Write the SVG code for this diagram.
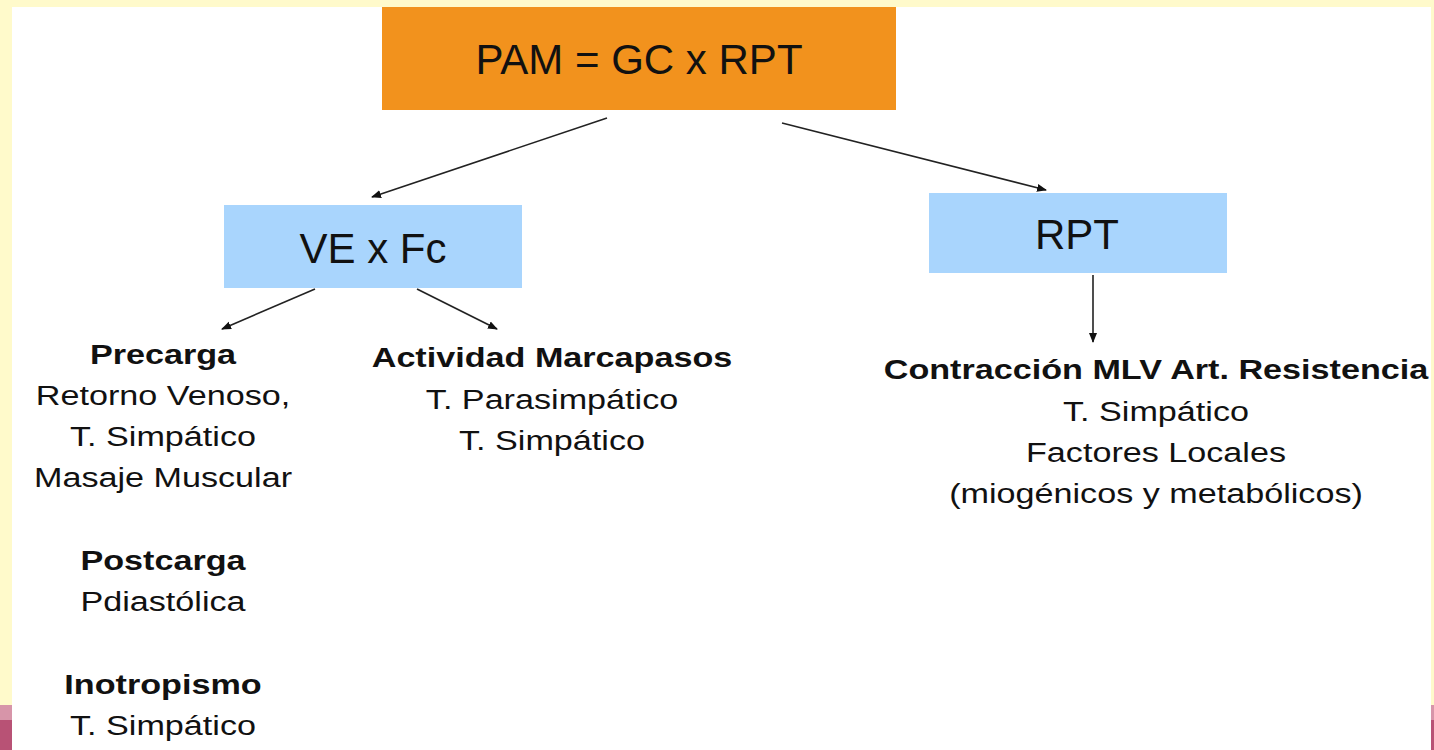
<svg xmlns="http://www.w3.org/2000/svg" width="1434" height="750" viewBox="0 0 1434 750">
<defs>
<marker id="ah" viewBox="0 0 10 10" refX="9" refY="5" markerWidth="10" markerHeight="10" markerUnits="userSpaceOnUse" orient="auto">
<path d="M0,1 L10,5 L0,9 z" fill="#111"/>
</marker>
<style>
text{font-family:"Liberation Sans",Arial,Helvetica,sans-serif;fill:#111;text-anchor:middle}
.big{font-size:42px}
.t{font-size:28px}
.b{font-size:28px;font-weight:bold}
.blue{fill:#a9d5fd}
.conn line{stroke:#222;stroke-width:1.6;marker-end:url(#ah)}
</style>
</defs>
<rect x="0" y="0" width="1434" height="750" fill="#fffacb"/>
<rect x="12" y="7" width="1419" height="743" fill="#ffffff"/>
<rect x="0" y="705" width="12" height="15" fill="#d795a9"/>
<rect x="0" y="720" width="12" height="30" fill="#b85275"/>
<rect x="1431" y="705" width="3" height="15" fill="#d795a9"/>
<rect x="1431" y="720" width="3" height="30" fill="#b85275"/>
<g id="pam">
<rect x="382" y="7" width="514" height="103" fill="#f2921d"/>
<text class="big" x="639" y="74">PAM = GC x RPT</text>
</g>
<g id="vefc">
<rect class="blue" x="224" y="205" width="298" height="83"/>
<text class="big" x="373" y="263">VE x Fc</text>
</g>
<g id="rpt">
<rect class="blue" x="929" y="193" width="298" height="80"/>
<text class="big" x="1077" y="249">RPT</text>
</g>
<g id="precarga" transform="translate(163 0) scale(1.22 1)">
<text class="b" x="0" y="364">Precarga</text>
<text class="t" x="0" y="405">Retorno Venoso,</text>
<text class="t" x="0" y="446">T. Simpático</text>
<text class="t" x="0" y="487">Masaje Muscular</text>
<text class="b" x="0" y="570">Postcarga</text>
<text class="t" x="0" y="611">Pdiastólica</text>
<text class="b" x="0" y="694">Inotropismo</text>
<text class="t" x="0" y="735">T. Simpático</text>
</g>
<g id="marcapasos" transform="translate(552 0) scale(1.22 1)">
<text class="b" x="0" y="367">Actividad Marcapasos</text>
<text class="t" x="0" y="409">T. Parasimpático</text>
<text class="t" x="0" y="450">T. Simpático</text>
</g>
<g id="contraccion" transform="translate(1156 0) scale(1.22 1)">
<text class="b" x="0" y="379">Contracción MLV Art. Resistencia</text>
<text class="t" x="0" y="421">T. Simpático</text>
<text class="t" x="0" y="462">Factores Locales</text>
<text class="t" x="0" y="503">(miogénicos y metabólicos)</text>
</g>
<g id="connectors" class="conn">
<line x1="607" y1="118" x2="372" y2="197"/>
<line x1="782" y1="123" x2="1046" y2="190"/>
<line x1="315" y1="289" x2="222" y2="329"/>
<line x1="417" y1="289" x2="497" y2="329"/>
<line x1="1093" y1="275" x2="1093" y2="342"/>
</g>
</svg>
